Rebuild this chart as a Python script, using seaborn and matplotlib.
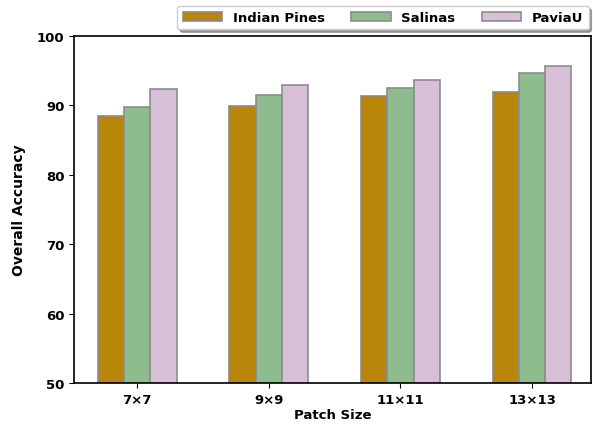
import numpy as np
import pandas as pd
import matplotlib
matplotlib.use('Agg')
import matplotlib.pyplot as plt
import seaborn as sns

## Data
patch_sizes  = ['7×7', '9×9', '11×11', '13×13']
indian_pines = [88.5, 89.9, 91.4, 92.0]
salinas      = [89.8, 91.5, 92.5, 94.7]
paviau       = [92.4, 92.9, 93.7, 95.7]
datasets     = ['Indian Pines', 'Salinas', 'PaviaU']
colors       = ['#B8860B', '#8FBC8F', '#D8BFD8']

df = pd.DataFrame({
    'Patch Size': patch_sizes * 3,
    'Overall Accuracy': indian_pines + salinas + paviau,
    'Dataset': [d for d in datasets for _ in patch_sizes],
})

sns.set_style('ticks', {'axes.edgecolor': 'black', 'text.color': 'black',
                        'axes.labelcolor': 'black', 'xtick.color': 'black',
                        'ytick.color': 'black'})
plt.rcParams['font.family'] = ['DejaVu Sans']
plt.rcParams['font.weight'] = 'bold'

fig = plt.figure(figsize=(5.93, 4.27), dpi=100)
ax = fig.add_axes([0.125, 0.101, 0.872, 0.812])

sns.barplot(data=df, x='Patch Size', y='Overall Accuracy', hue='Dataset',
            palette=colors, width=0.6, edgecolor='#8c8c8c', linewidth=1.2,
            saturation=1, ax=ax)

ax.set_ylim(50, 100)
ax.set_xlim(-0.48, 3.45)
ax.set_yticks([50, 60, 70, 80, 90, 100])
ax.set_xlabel('Patch Size', fontsize=9.5, fontweight='bold', labelpad=2)
ax.set_ylabel('Overall Accuracy', fontsize=10, fontweight='bold', labelpad=8)
ax.tick_params(labelsize=9.5)
for lab in ax.get_xticklabels() + ax.get_yticklabels():
    lab.set_fontweight('bold')
for sp in ax.spines.values():
    sp.set_visible(True)
    sp.set_linewidth(1.2)

ax.legend(loc='upper right', bbox_to_anchor=(1.0, 1.095), ncol=3,
          prop={'weight': 'bold', 'size': 9.5}, frameon=True, shadow=True,
          handlelength=3.0, columnspacing=2.0, borderaxespad=0.2,
          edgecolor='#cccccc')

fig.savefig('out.png', dpi=100)
